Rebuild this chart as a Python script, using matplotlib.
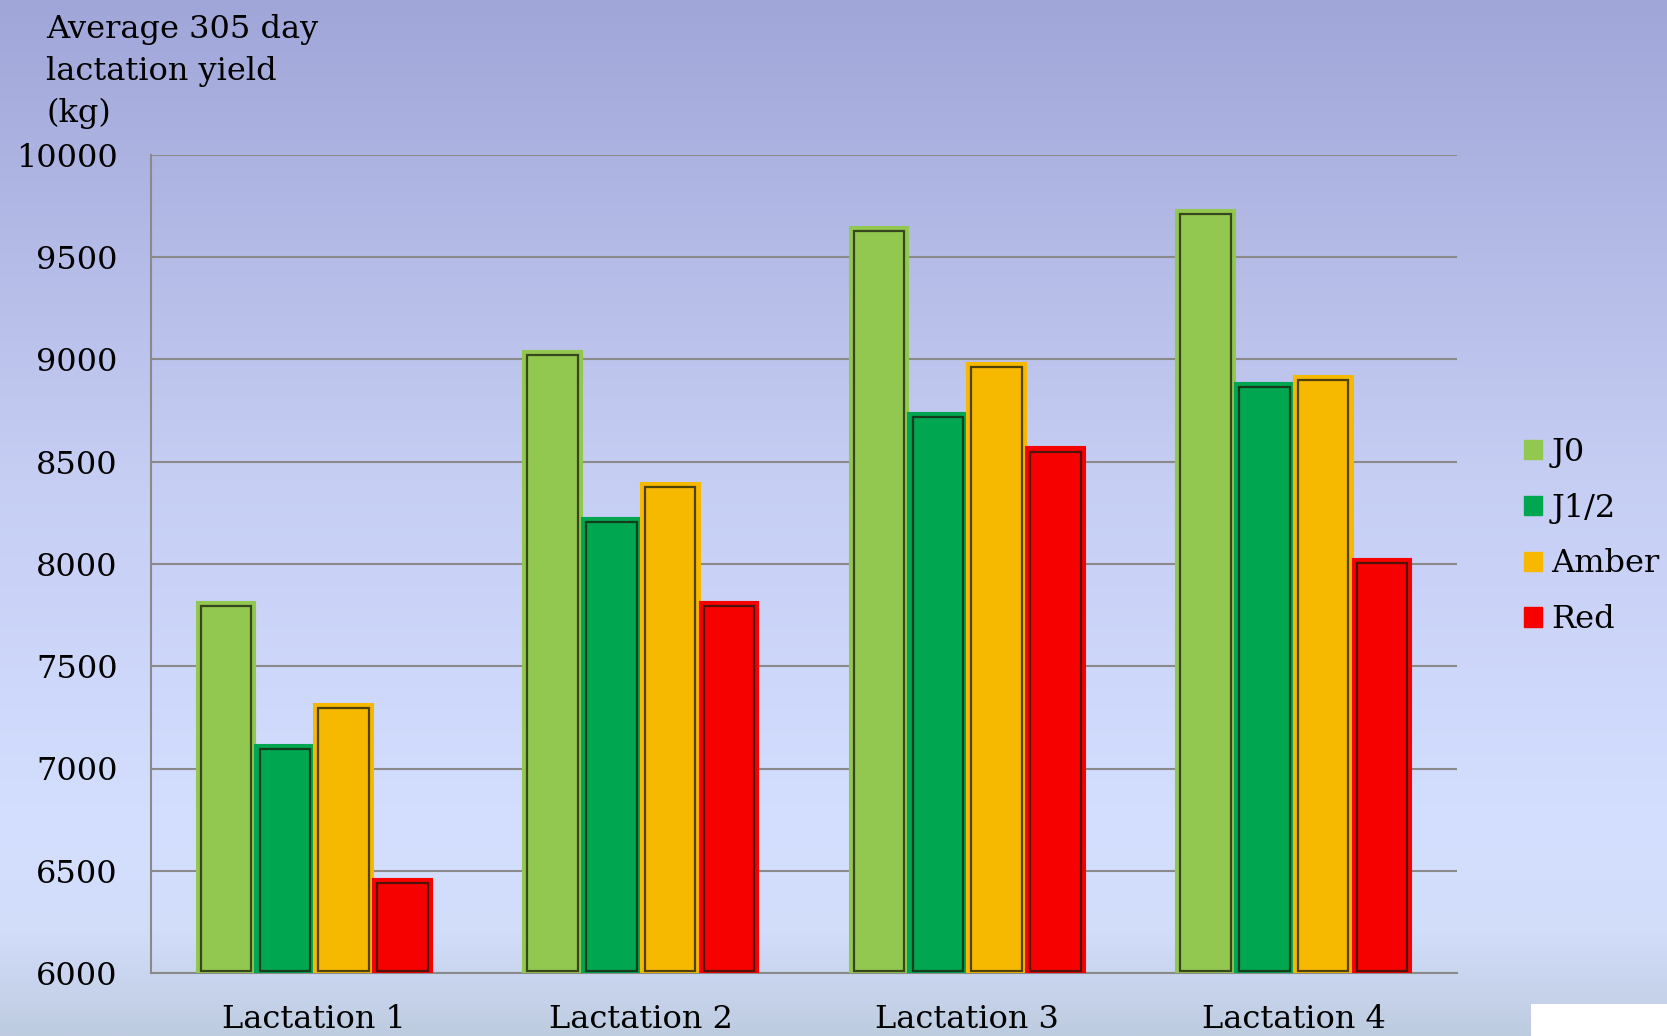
import numpy as np
import matplotlib
matplotlib.use("Agg")
import matplotlib.pyplot as plt
from matplotlib.patches import Patch, Rectangle

categories = ["Lactation 1", "Lactation 2", "Lactation 3", "Lactation 4"]
series_names = ["J0", "J1/2", "Amber", "Red"]
j0 = [7815, 9040, 9650, 9730]
j12 = [7115, 8225, 8740, 8885]
amber = [7315, 8395, 8985, 8920]
red = [6460, 7815, 8570, 8025]
values = [j0, j12, amber, red]
colors = ["#92C850", "#00A650", "#F6B900", "#F70000"]
yticks = [6000, 6500, 7000, 7500, 8000, 8500, 9000, 9500, 10000]
ylabel_text = "Average 305 day\nlactation yield\n(kg)"

plt.rcParams['font.family'] = ['DejaVu Serif']

W, H = 1667, 1036
fig = plt.figure(figsize=(W / 100, H / 100), dpi=100)

# background gradient
bg = fig.add_axes([0, 0, 1, 1], zorder=-10)
stops_y = [0.0, 0.45, 0.80, 0.90, 1.0]
stops_c = np.array([[160, 166, 216], [197, 205, 243], [212, 223, 255],
                    [210, 221, 250], [190, 204, 224]]) / 255.0
yy = np.linspace(0, 1, 512)
grad = np.stack([np.interp(yy, stops_y, stops_c[:, k]) for k in range(3)], axis=-1)
bg.imshow(grad[:, None, :], aspect='auto', extent=[0, 1, 1, 0])
bg.set_xlim(0, 1)
bg.set_ylim(1, 0)
bg.axis('off')
# white corner patch (bottom-right)
bg.add_patch(Rectangle((1531 / W, 1004 / H), 1 - 1531 / W, 1 - 1004 / H,
                       facecolor='white', edgecolor='none'))

ax = fig.add_axes([151 / W, 1 - 973 / H, (1457 - 151) / W, (973 - 155) / H])
ax.patch.set_alpha(0)

x = np.arange(len(categories))
bw = 0.18
offsets = [-1.5 * bw, -0.5 * bw, 0.5 * bw, 1.5 * bw]
for vals, col, off in zip(values, colors, offsets):
    ax.bar(x + off, np.array(vals) - 6000, bottom=6000, width=bw,
           color=col, edgecolor=col, linewidth=1.5, zorder=3)
    ax.bar(x + off, np.array(vals) - 6000 - 32, bottom=6012, width=bw - 0.026,
           color='none', edgecolor=(0.1, 0.1, 0.05, 0.75), linewidth=1.6, zorder=4)

ax.set_ylim(6000, 10000)
ax.set_xlim(-0.5, 3.5)
ax.set_yticks(yticks)
ax.set_yticklabels([str(t) for t in yticks], fontsize=23)
ax.set_xticks(x)
ax.set_xticklabels(categories, fontsize=23)
ax.tick_params(axis='y', length=0, pad=24)
ax.tick_params(axis='x', length=0, pad=22)
ax.grid(axis='y', color='#8a8a8a', linewidth=1.5, zorder=1)
ax.set_axisbelow(True)
for s in ['top', 'right']:
    ax.spines[s].set_visible(False)
for s in ['left', 'bottom']:
    ax.spines[s].set_color('#8a8a8a')
    ax.spines[s].set_linewidth(1.5)

fig.text(46 / W, 1 - 14 / H, ylabel_text, fontsize=23, va='top', ha='left',
         linespacing=1.45)

handles = [Patch(facecolor=c, edgecolor=c) for c in colors]
fig.legend(handles, series_names, loc='center left',
           bbox_to_anchor=(1524 / W, 1 - 536 / H), frameon=False,
           fontsize=23, handlelength=0.55, handleheight=0.55,
           handletextpad=0.3, labelspacing=0.78, borderpad=0, borderaxespad=0)

fig.savefig("out.png", dpi=100)
